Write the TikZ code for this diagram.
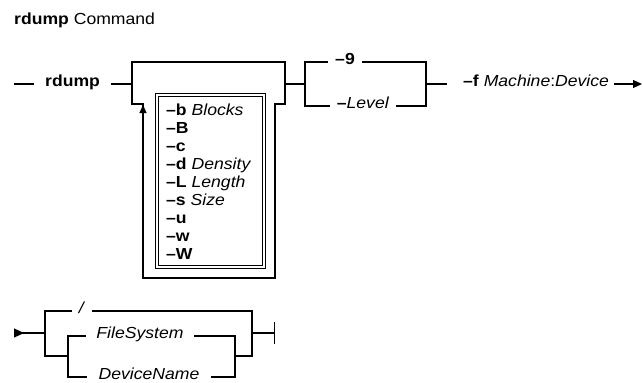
\documentclass[tikz,border=0pt]{standalone}
\usepackage{fontspec}
\setmainfont{Liberation Sans}[FakeStretch=1.1]
\usetikzlibrary{arrows.meta}

\begin{document}
\begin{tikzpicture}[x=1pt,y=-1pt,font=\fontsize{16}{18}\selectfont,
rail/.style={line width=1.2pt,line join=miter},
main/.style={line width=2.2pt},
frame/.style={line width=1pt},
kw/.style={inner ysep=0pt,inner xsep=11pt,anchor=mid west},
onrail/.style={fill=white,inner xsep=7pt,inner ysep=1pt,anchor=mid}]
\useasboundingbox (0,0) rectangle (643,383);
\node[anchor=base west,inner sep=0pt] (title) at (14,24) {\textbf{rdump} Command};
% first line
\coordinate (in1) at (14,84);
\node[kw] (cmd) at (34,84) {\textbf{rdump}};
\coordinate (g1in) at (132,84);
\coordinate (g1out) at (285,84);
\coordinate (g2in) at (305,84);
\coordinate (g2out) at (426,84);
\coordinate (end1) at (447,84);
\node[kw,inner xsep=5pt] (fdev) at (458,84) {\textbf{\textendash f} \textit{Machine}:\textit{Device}};
\coordinate (cont1) at (642,84);
\draw[rail] (in1) -- (cmd.mid west);
\draw[rail] (cmd.mid east) -- (g1in);
% repeatable flags
\draw[main] (132,62) -- (285,62);
\draw[rail] (132,61) -- (132,104) -- (143,104) -- (143,278) -- (275,278) -- (275,104) -- (285,104) -- (285,61);
\draw[rail,-{Triangle[width=7pt,length=8pt]}] (143,118) -- (143,105);
\draw[frame] (155,93) rectangle (265,268);
\draw[frame] (158,96) rectangle (262,265);
\node[align=left,inner sep=0pt,anchor=north west] (opts) at (166,104) {%
\textbf{\textendash b} \textit{Blocks}\\
\textbf{\textendash B}\\
\textbf{\textendash c}\\
\textbf{\textendash d} \textit{Density}\\
\textbf{\textendash L} \textit{Length}\\
\textbf{\textendash s} \textit{Size}\\
\textbf{\textendash u}\\
\textbf{\textendash w}\\
\textbf{\textendash W}};
\draw[rail] (g1out) -- (g2in);
% level
\draw[main] (305,62) -- (426,62);
\draw[rail] (305,61) -- (305,106) -- (426,106) -- (426,61);
\node[onrail] (nine) at (345,62) {\textbf{\textendash 9}};
\node[onrail] (level) at (363,106) {\textbf{\textendash}\textit{Level}};
\draw[rail] (g2out) -- (end1);
\draw[rail,-{Triangle[width=8pt,length=9pt]}] (fdev.mid east) -- (cont1);
% second line
\coordinate (cont2) at (14,333);
\coordinate (g3in) at (45,333);
\coordinate (g3out) at (252,333);
\coordinate (end2) at (275,333);
\draw[rail,{Triangle[reversed,width=9pt,length=10pt]}-] (cont2) -- (g3in);
\draw[main] (45,311) -- (252,311);
\draw[rail] (45,310) -- (45,356) -- (68,356);
\draw[rail] (68,336) rectangle (235,377);
\draw[rail] (235,356) -- (252,356) -- (252,310);
\node[onrail] (root) at (82,311) {\textit{/}};
\node[onrail,inner xsep=10pt] (fsys) at (140,336) {\textit{FileSystem}};
\node[onrail,inner xsep=12pt] (dev) at (149,377) {\textit{DeviceName}};
\draw[rail,-{Bar[width=22pt]}] (g3out) -- (end2);
\end{tikzpicture}
\end{document}
